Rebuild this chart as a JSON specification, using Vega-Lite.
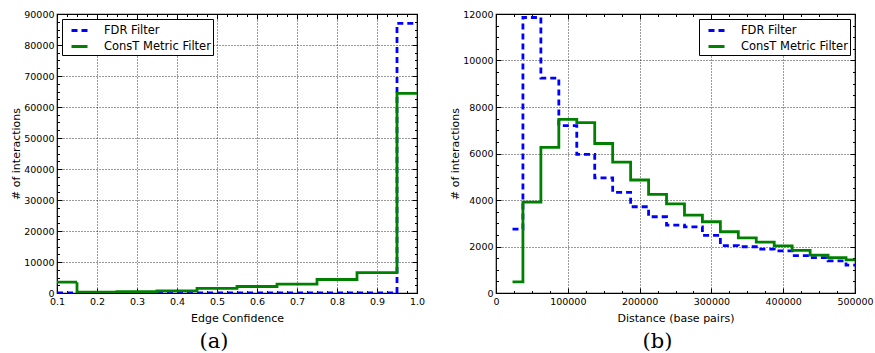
{
  "$schema": "https://vega.github.io/schema/vega-lite/v6.json",
  "padding": {"left": 10, "top": 8, "right": 5, "bottom": 2},
  "bounds": "flush",
  "spacing": 79,
  "config": {
    "font": "DejaVu Sans",
    "view": {"stroke": "#000000", "strokeWidth": 1.2},
    "axis": {
      "labelFont": "DejaVu Sans", "labelFontSize": 9.5, "labelColor": "#000000",
      "titleFont": "DejaVu Sans", "titleFontSize": 11, "titleFontWeight": "normal", "titleColor": "#000000",
      "tickColor": "#000000", "tickWidth": 1, "domain": false,
      "gridColor": "#000000", "gridDash": [1, 2], "gridWidth": 0.8,
      "labelOverlap": false, "labelFlush": false, "labelBound": false
    },
    "legend": {
      "labelFont": "DejaVu Sans", "labelFontSize": 11.5, "labelColor": "#000000",
      "strokeColor": "#000000", "fillColor": "#ffffff", "padding": 2, "cornerRadius": 0,
      "symbolType": "stroke", "symbolSize": 256, "symbolStrokeWidth": 2.8, "labelOffset": 15,
      "symbolOffset": 6, "rowPadding": 0, "offset": 5
    },
    "title": {"font": "DejaVu Serif", "fontSize": 21, "fontWeight": "normal", "color": "#000000"}
  },
  "datasets": {
    "conf": [
      {"x": 0.1, "count": 0, "filter": "FDR Filter"},
      {"x": 0.95, "count": 87000, "filter": "FDR Filter"},
      {"x": 1.0, "count": 87000, "filter": "FDR Filter"},
      {"x": 0.1, "count": 3500, "filter": "ConsT Metric Filter"},
      {"x": 0.15, "count": 250, "filter": "ConsT Metric Filter"},
      {"x": 0.25, "count": 450, "filter": "ConsT Metric Filter"},
      {"x": 0.35, "count": 700, "filter": "ConsT Metric Filter"},
      {"x": 0.45, "count": 1500, "filter": "ConsT Metric Filter"},
      {"x": 0.55, "count": 2100, "filter": "ConsT Metric Filter"},
      {"x": 0.65, "count": 2850, "filter": "ConsT Metric Filter"},
      {"x": 0.75, "count": 4350, "filter": "ConsT Metric Filter"},
      {"x": 0.85, "count": 6600, "filter": "ConsT Metric Filter"},
      {"x": 0.95, "count": 64400, "filter": "ConsT Metric Filter"},
      {"x": 1.0, "count": 64400, "filter": "ConsT Metric Filter"}
    ],
    "dist": [
      {"x": 23000, "count": 2750, "filter": "FDR Filter"},
      {"x": 37500, "count": 11850, "filter": "FDR Filter"},
      {"x": 62500, "count": 9240, "filter": "FDR Filter"},
      {"x": 87500, "count": 7200, "filter": "FDR Filter"},
      {"x": 112500, "count": 5960, "filter": "FDR Filter"},
      {"x": 137500, "count": 4950, "filter": "FDR Filter"},
      {"x": 162500, "count": 4330, "filter": "FDR Filter"},
      {"x": 187500, "count": 3710, "filter": "FDR Filter"},
      {"x": 212500, "count": 3280, "filter": "FDR Filter"},
      {"x": 237500, "count": 2920, "filter": "FDR Filter"},
      {"x": 262500, "count": 2840, "filter": "FDR Filter"},
      {"x": 287500, "count": 2480, "filter": "FDR Filter"},
      {"x": 312500, "count": 2040, "filter": "FDR Filter"},
      {"x": 337500, "count": 1990, "filter": "FDR Filter"},
      {"x": 362500, "count": 1890, "filter": "FDR Filter"},
      {"x": 387500, "count": 1810, "filter": "FDR Filter"},
      {"x": 412500, "count": 1610, "filter": "FDR Filter"},
      {"x": 437500, "count": 1525, "filter": "FDR Filter"},
      {"x": 462500, "count": 1380, "filter": "FDR Filter"},
      {"x": 487500, "count": 1195, "filter": "FDR Filter"},
      {"x": 500000, "count": 1195, "filter": "FDR Filter"},
      {"x": 23000, "count": 480, "filter": "ConsT Metric Filter"},
      {"x": 37500, "count": 3910, "filter": "ConsT Metric Filter"},
      {"x": 62500, "count": 6260, "filter": "ConsT Metric Filter"},
      {"x": 87500, "count": 7470, "filter": "ConsT Metric Filter"},
      {"x": 112500, "count": 7330, "filter": "ConsT Metric Filter"},
      {"x": 137500, "count": 6430, "filter": "ConsT Metric Filter"},
      {"x": 162500, "count": 5630, "filter": "ConsT Metric Filter"},
      {"x": 187500, "count": 4860, "filter": "ConsT Metric Filter"},
      {"x": 212500, "count": 4245, "filter": "ConsT Metric Filter"},
      {"x": 237500, "count": 3830, "filter": "ConsT Metric Filter"},
      {"x": 262500, "count": 3350, "filter": "ConsT Metric Filter"},
      {"x": 287500, "count": 3065, "filter": "ConsT Metric Filter"},
      {"x": 312500, "count": 2635, "filter": "ConsT Metric Filter"},
      {"x": 337500, "count": 2375, "filter": "ConsT Metric Filter"},
      {"x": 362500, "count": 2190, "filter": "ConsT Metric Filter"},
      {"x": 387500, "count": 2030, "filter": "ConsT Metric Filter"},
      {"x": 412500, "count": 1830, "filter": "ConsT Metric Filter"},
      {"x": 437500, "count": 1625, "filter": "ConsT Metric Filter"},
      {"x": 462500, "count": 1525, "filter": "ConsT Metric Filter"},
      {"x": 487500, "count": 1425, "filter": "ConsT Metric Filter"},
      {"x": 500000, "count": 1425, "filter": "ConsT Metric Filter"}
    ]
  },
  "hconcat": [
    {
      "width": 360, "height": 279,
      "data": {"name": "conf"},
      "title": {"text": "(a)", "orient": "bottom", "anchor": "middle", "dx": -23, "offset": 8},
      "layer": [
        {
          "mark": {"type": "line", "interpolate": "step-after", "strokeWidth": 2.8, "strokeCap": "butt", "clip": true},
          "encoding": {
            "x": {"field": "x", "type": "quantitative",
              "scale": {"domain": [0.1, 1.0], "nice": false, "zero": false},
              "axis": {"orient": "bottom", "title": "Edge Confidence", "titlePadding": 4,
                "values": [0.1,0.125,0.15,0.175,0.2,0.225,0.25,0.275,0.3,0.325,0.35,0.375,0.4,0.425,0.45,0.475,0.5,0.525,0.55,0.575,0.6,0.625,0.65,0.675,0.7,0.725,0.75,0.775,0.8,0.825,0.85,0.875,0.9,0.925,0.95,0.975,1.0],
                "labelExpr": "abs(datum.value*10-round(datum.value*10))<1e-6 ? format(datum.value,'.1f') : ''",
                "grid": true,
                "gridOpacity": {"condition": {"test": "abs(datum.value*10-round(datum.value*10))>1e-6", "value": 0}, "value": 1},
                "tickSize": {"condition": {"test": "abs(datum.value*10-round(datum.value*10))>1e-6", "value": -2.5}, "value": -5},
                "labelPadding": 8}},
            "y": {"field": "count", "type": "quantitative",
              "scale": {"domain": [0, 90000], "nice": false},
              "axis": {"orient": "left", "title": "# of interactions", "titlePadding": 2,
                "values": [0,2500,5000,7500,10000,12500,15000,17500,20000,22500,25000,27500,30000,32500,35000,37500,40000,42500,45000,47500,50000,52500,55000,57500,60000,62500,65000,67500,70000,72500,75000,77500,80000,82500,85000,87500,90000],
                "labelExpr": "datum.value % 10000 === 0 ? format(datum.value,'d') : ''",
                "grid": true,
                "gridOpacity": {"condition": {"test": "datum.value % 10000 !== 0", "value": 0}, "value": 1},
                "tickSize": {"condition": {"test": "datum.value % 10000 !== 0", "value": -2.5}, "value": -5},
                "labelPadding": 8}},
            "color": {"field": "filter", "type": "nominal",
              "scale": {"domain": ["FDR Filter", "ConsT Metric Filter"], "range": ["#0000ff", "#008000"]},
              "legend": {"title": null, "orient": "top-left"}},
            "strokeDash": {"field": "filter", "type": "nominal",
              "scale": {"domain": ["FDR Filter", "ConsT Metric Filter"], "range": [[6, 4], [1, 0]]},
              "legend": {"title": null, "orient": "top-left"}}
          }
        },
        {
          "mark": {"type": "line", "opacity": 0},
          "encoding": {
            "x": {"field": "x", "type": "quantitative",
              "axis": {"orient": "top", "title": null, "labels": false, "grid": false,
                "values": [0.1,0.125,0.15,0.175,0.2,0.225,0.25,0.275,0.3,0.325,0.35,0.375,0.4,0.425,0.45,0.475,0.5,0.525,0.55,0.575,0.6,0.625,0.65,0.675,0.7,0.725,0.75,0.775,0.8,0.825,0.85,0.875,0.9,0.925,0.95,0.975,1.0],
                "tickSize": {"condition": {"test": "abs(datum.value*10-round(datum.value*10))>1e-6", "value": -2.5}, "value": -5}}},
            "y": {"field": "count", "type": "quantitative",
              "axis": {"orient": "right", "title": null, "labels": false, "grid": false,
                "values": [0,2500,5000,7500,10000,12500,15000,17500,20000,22500,25000,27500,30000,32500,35000,37500,40000,42500,45000,47500,50000,52500,55000,57500,60000,62500,65000,67500,70000,72500,75000,77500,80000,82500,85000,87500,90000],
                "tickSize": {"condition": {"test": "datum.value % 10000 !== 0", "value": -2.5}, "value": -5}}}
          }
        }
      ],
      "resolve": {"axis": {"x": "independent", "y": "independent"}}
    },
    {
      "width": 359, "height": 279,
      "data": {"name": "dist"},
      "title": {"text": "(b)", "orient": "bottom", "anchor": "middle", "dx": -18, "offset": 8},
      "layer": [
        {
          "mark": {"type": "line", "interpolate": "step-after", "strokeWidth": 2.8, "strokeCap": "butt", "clip": true},
          "encoding": {
            "x": {"field": "x", "type": "quantitative",
              "scale": {"domain": [0, 500000], "nice": false, "zero": false},
              "axis": {"orient": "bottom", "title": "Distance (base pairs)", "titlePadding": 4,
                "values": [0,25000,50000,75000,100000,125000,150000,175000,200000,225000,250000,275000,300000,325000,350000,375000,400000,425000,450000,475000,500000],
                "labelExpr": "datum.value % 100000 === 0 ? format(datum.value,'d') : ''",
                "grid": true,
                "gridOpacity": {"condition": {"test": "datum.value % 100000 !== 0", "value": 0}, "value": 1},
                "tickSize": {"condition": {"test": "datum.value % 100000 !== 0", "value": -2.5}, "value": -5},
                "labelPadding": 8}},
            "y": {"field": "count", "type": "quantitative",
              "scale": {"domain": [0, 12000], "nice": false},
              "axis": {"orient": "left", "title": "# of interactions", "titlePadding": 2,
                "values": [0,500,1000,1500,2000,2500,3000,3500,4000,4500,5000,5500,6000,6500,7000,7500,8000,8500,9000,9500,10000,10500,11000,11500,12000],
                "labelExpr": "datum.value % 2000 === 0 ? format(datum.value,'d') : ''",
                "grid": true,
                "gridOpacity": {"condition": {"test": "datum.value % 2000 !== 0", "value": 0}, "value": 1},
                "tickSize": {"condition": {"test": "datum.value % 2000 !== 0", "value": -2.5}, "value": -5},
                "labelPadding": 8}},
            "color": {"field": "filter", "type": "nominal",
              "scale": {"domain": ["FDR Filter", "ConsT Metric Filter"], "range": ["#0000ff", "#008000"]},
              "legend": {"title": null, "orient": "top-right"}},
            "strokeDash": {"field": "filter", "type": "nominal",
              "scale": {"domain": ["FDR Filter", "ConsT Metric Filter"], "range": [[6, 4], [1, 0]]},
              "legend": {"title": null, "orient": "top-right"}}
          }
        },
        {
          "mark": {"type": "line", "opacity": 0},
          "encoding": {
            "x": {"field": "x", "type": "quantitative",
              "axis": {"orient": "top", "title": null, "labels": false, "grid": false,
                "values": [0,25000,50000,75000,100000,125000,150000,175000,200000,225000,250000,275000,300000,325000,350000,375000,400000,425000,450000,475000,500000],
                "tickSize": {"condition": {"test": "datum.value % 100000 !== 0", "value": -2.5}, "value": -5}}},
            "y": {"field": "count", "type": "quantitative",
              "axis": {"orient": "right", "title": null, "labels": false, "grid": false,
                "values": [0,500,1000,1500,2000,2500,3000,3500,4000,4500,5000,5500,6000,6500,7000,7500,8000,8500,9000,9500,10000,10500,11000,11500,12000],
                "tickSize": {"condition": {"test": "datum.value % 2000 !== 0", "value": -2.5}, "value": -5}}}
          }
        }
      ],
      "resolve": {"axis": {"x": "independent", "y": "independent"}}
    }
  ],
  "resolve": {
    "scale": {"x": "independent", "y": "independent", "color": "independent", "strokeDash": "independent"},
    "legend": {"color": "independent", "strokeDash": "independent"}
  }
}
